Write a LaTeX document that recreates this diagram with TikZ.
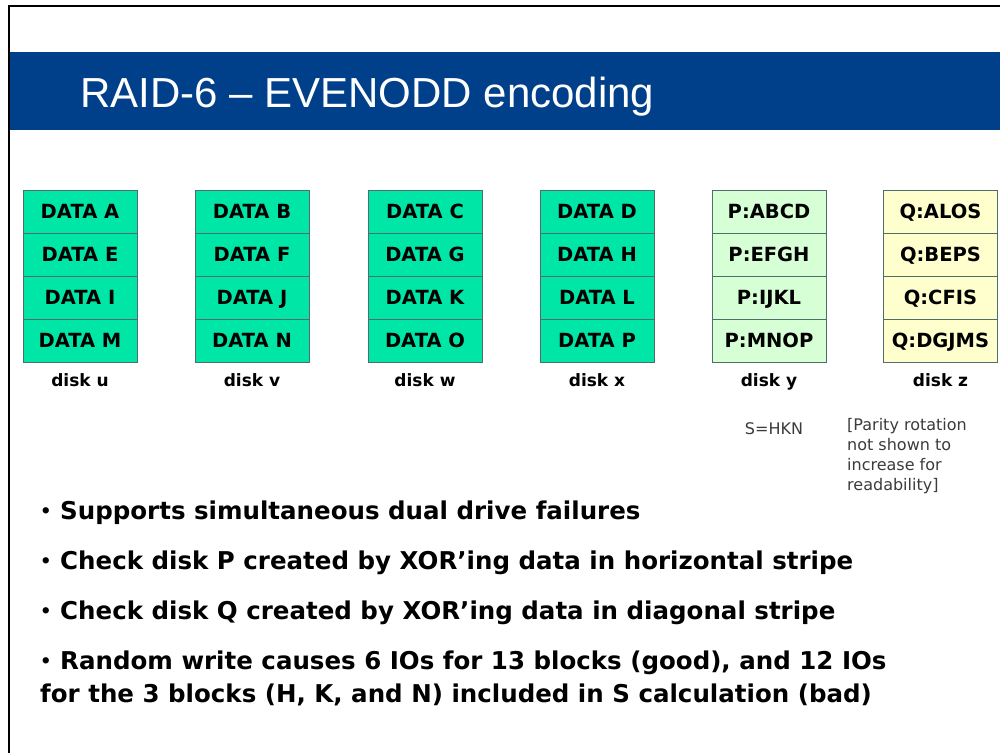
\documentclass[tikz,border=0pt]{standalone}
\usepackage{fontspec}
\setmainfont{DejaVu Sans}
\newfontfamily\titlefont{Liberation Sans}
\definecolor{bandblue}{RGB}{0,64,138}
\definecolor{datagreen}{RGB}{0,230,166}
\definecolor{pgreen}{RGB}{214,255,214}
\definecolor{qyellow}{RGB}{255,255,206}
\definecolor{cellline}{RGB}{80,110,105}
\definecolor{notegray}{RGB}{60,60,60}
% smaller bullet dot, lifted to the middle of the lowercase letters
\newcommand\bdot{\raisebox{1.5pt}{\fontsize{18}{20}\selectfont •}}
\tikzset{
  cell/.style={draw=cellline, line width=0.8pt, minimum width=114pt, minimum height=43pt,
    inner sep=0pt, text height=14pt, text depth=0pt,
    font=\bfseries\fontsize{19.5}{20}\selectfont},
  datacell/.style={cell, fill=datagreen},
  pcell/.style={cell, fill=pgreen},
  qcell/.style={cell, fill=qyellow},
  disklabel/.style={anchor=base, font=\bfseries\fontsize{17}{20}\selectfont, inner sep=0pt},
  bullet/.style={anchor=base west, inner sep=0pt, font=\bfseries\fontsize{24.5}{30}\selectfont},
  note/.style={inner sep=0pt, text=notegray, font=\fontsize{16}{20}\selectfont}
}
\begin{document}
\begin{tikzpicture}[x=1pt,y=-1pt]
\useasboundingbox (0,0) rectangle (1000,753);
\fill[white] (0,0) rectangle (1000,753);
% slide frame
\draw[line width=2pt] (9,753) -- (9,6) -- (1000,6);
% title band
\fill[bandblue] (10,52) rectangle (1000,130);
\node[anchor=base west, inner sep=0pt, text=white, font=\titlefont\fontsize{42}{50}\selectfont]
  (title) at (80,107) {RAID-6 – EVENODD encoding};

% disk u
\node[datacell] (u1) at (80,211.5) {DATA A};
\node[datacell] (u2) at (80,254.5) {DATA E};
\node[datacell] (u3) at (80,297.5) {DATA I};
\node[datacell] (u4) at (80,340.5) {DATA M};
% disk v
\node[datacell] (v1) at (252,211.5) {DATA B};
\node[datacell] (v2) at (252,254.5) {DATA F};
\node[datacell] (v3) at (252,297.5) {DATA J};
\node[datacell] (v4) at (252,340.5) {DATA N};
% disk w
\node[datacell] (w1) at (425,211.5) {DATA C};
\node[datacell] (w2) at (425,254.5) {DATA G};
\node[datacell] (w3) at (425,297.5) {DATA K};
\node[datacell] (w4) at (425,340.5) {DATA O};
% disk x
\node[datacell] (x1) at (597,211.5) {DATA D};
\node[datacell] (x2) at (597,254.5) {DATA H};
\node[datacell] (x3) at (597,297.5) {DATA L};
\node[datacell] (x4) at (597,340.5) {DATA P};
% disk y (horizontal parity)
\node[pcell] (y1) at (769,211.5) {P:ABCD};
\node[pcell] (y2) at (769,254.5) {P:EFGH};
\node[pcell] (y3) at (769,297.5) {P:IJKL};
\node[pcell] (y4) at (769,340.5) {P:MNOP};
% disk z (diagonal parity)
\node[qcell] (z1) at (940.5,211.5) {Q:ALOS};
\node[qcell] (z2) at (940.5,254.5) {Q:BEPS};
\node[qcell] (z3) at (940.5,297.5) {Q:CFIS};
\node[qcell] (z4) at (940.5,340.5) {Q:DGJMS};

% disk labels
\node[disklabel] (lu) at (80,386) {disk u};
\node[disklabel] (lv) at (252,386) {disk v};
\node[disklabel] (lw) at (425,386) {disk w};
\node[disklabel] (lx) at (597,386) {disk x};
\node[disklabel] (ly) at (769,386) {disk y};
\node[disklabel] (lz) at (940.5,386) {disk z};

% notes
\node[note] (s) at (774,429) {S=HKN};
\node[note, anchor=north west, align=left] (rot) at (847,418)
  {[Parity rotation\\not shown to\\increase for\\readability]};

% bullet points
\node[bullet] (b1) at (40,519) {\bdot{} Supports simultaneous dual drive failures};
\node[bullet] (b2) at (40,569) {\bdot{} Check disk P created by XOR’ing data in horizontal stripe};
\node[bullet] (b3) at (40,619) {\bdot{} Check disk Q created by XOR’ing data in diagonal stripe};
\node[bullet] (b4) at (40,669) {\bdot{} Random write causes 6 IOs for 13 blocks (good), and 12 IOs};
\node[bullet] (b5) at (40,702) {for the 3 blocks (H, K, and N) included in S calculation (bad)};
\end{tikzpicture}
\end{document}
